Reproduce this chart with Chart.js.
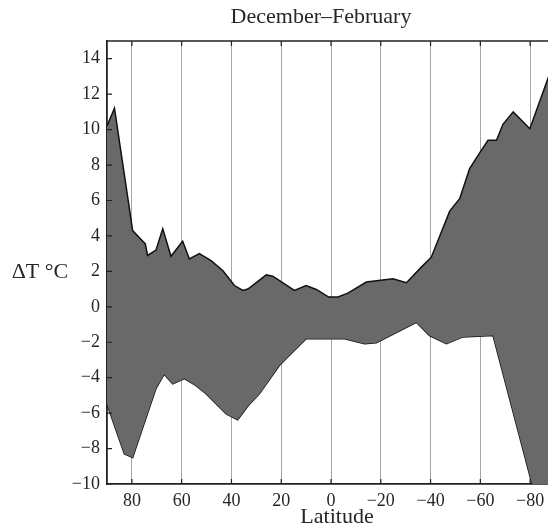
<!DOCTYPE html>
<html>
<head>
<meta charset="utf-8">
<script src="https://cdn.jsdelivr.net/npm/chart.js@4"></script>
<style>
html,body{margin:0;padding:0;background:#fff;overflow:hidden;}
#wrap{width:560px;height:529px;}
</style>
</head>
<body>
<div id="wrap"><canvas id="c" width="560" height="529"></canvas></div>
<script>
// Latitudes (deg) and ΔT (°C) of the upper boundary of the band
const latUpper = [90, 87, 81.7, 79.7, 76.3, 74.6, 73.7, 70.3, 67.6, 64.3, 59.6, 56.9, 52.9, 48.2, 43.5, 38.8, 35.4, 33.4, 26, 23.4, 14.7, 10, 5.9, 0.9, -2.8, -6.8, -14.2, -24.9, -30.3, -36.3, -40.3, -47.7, -51.7, -55.7, -59.8, -63.1, -66.5, -69.1, -73.2, -79.9, -87.2, -90];
const upperT = [10.2, 11.2, 6.2, 4.3, 3.8, 3.55, 2.9, 3.2, 4.4, 2.85, 3.7, 2.7, 3.0, 2.6, 2.05, 1.2, 0.92, 1.0, 1.8, 1.73, 0.92, 1.2, 0.98, 0.55, 0.55, 0.77, 1.4, 1.58, 1.36, 2.24, 2.8, 5.4, 6.1, 7.8, 8.7, 9.4, 9.4, 10.3, 11.0, 10.05, 12.9, 14.0];
// Latitudes and ΔT of the lower boundary
const latLower = [90, 83, 79.7, 70.3, 67, 63.6, 58.9, 54.2, 50.2, 42.1, 37.5, 33.4, 28.7, 20.7, 10, -5.5, -13.5, -18.2, -34.3, -39.6, -46.4, -53, -65.1, -80.4, -82, -90];
const lowerT = [-5.5, -8.3, -8.5, -4.6, -3.8, -4.35, -4.05, -4.45, -4.9, -6.05, -6.37, -5.6, -4.9, -3.3, -1.8, -1.8, -2.08, -2.03, -0.87, -1.62, -2.08, -1.7, -1.62, -9.8, -10.5, -13];
// Axis ticks
const xTicks = [80, 60, 40, 20, 0, -20, -40, -60, -80];
const yTicks = [-10, -8, -6, -4, -2, 0, 2, 4, 6, 8, 10, 12, 14];
const titleText = 'December–February';
const xLabel = 'Latitude';
const yLabel = 'ΔT °C';

const SERIF = '"Liberation Serif", "DejaVu Serif", serif';
const TXT = '#262626';
const fmt = v => (v < 0 ? '−' + Math.abs(v) : String(v));

const framePlugin = {
  id: 'frame',
  afterDatasetsDraw(chart) {
    const {ctx, chartArea: a, scales: {x, y}} = chart;
    ctx.save();
    ctx.strokeStyle = '#222';
    ctx.lineWidth = 1.5;
    ctx.beginPath();
    ctx.moveTo(a.left, a.top); ctx.lineTo(a.right, a.top);
    ctx.moveTo(a.right, a.top); ctx.lineTo(a.right, a.bottom);
    ctx.stroke();
    ctx.lineWidth = 1.2;
    ctx.beginPath();
    yTicks.forEach(v => {
      const p = y.getPixelForValue(v);
      ctx.moveTo(a.left, p); ctx.lineTo(a.left + 5, p);
      ctx.moveTo(a.right, p); ctx.lineTo(a.right - 5, p);
    });
    xTicks.forEach(v => {
      const p = x.getPixelForValue(v);
      ctx.moveTo(p, a.bottom); ctx.lineTo(p, a.bottom - 5);
      ctx.moveTo(p, a.top); ctx.lineTo(p, a.top + 5);
    });
    ctx.stroke();
    ctx.restore();
  },
  afterDraw(chart) {
    const {ctx} = chart;
    ctx.save();
    ctx.fillStyle = TXT;
    ctx.textAlign = 'center';
    ctx.textBaseline = 'middle';
    ctx.font = '22px ' + SERIF;
    ctx.fillText(titleText, 321, 17);
    ctx.fillText(xLabel, 337, 517);
    ctx.fillText(yLabel, 40, 272);
    ctx.restore();
  }
};

new Chart(document.getElementById('c'), {
  type: 'line',
  data: {
    datasets: [
      {
        data: latUpper.map((v, i) => ({x: v, y: upperT[i]})),
        borderColor: '#111', borderWidth: 1.5, pointRadius: 0, tension: 0,
        backgroundColor: '#696969', fill: '+1'
      },
      {
        data: latLower.map((v, i) => ({x: v, y: lowerT[i]})),
        borderColor: '#111', borderWidth: 1.5, pointRadius: 0, tension: 0,
        fill: false
      }
    ]
  },
  options: {
    responsive: false,
    animation: false,
    events: [],
    layout: {padding: {top: 41, right: 5, left: 0, bottom: 0}},
    plugins: {legend: {display: false}, tooltip: {enabled: false}, title: {display: false}},
    scales: {
      x: {
        type: 'linear', reverse: true, min: -90, max: 90,
        afterBuildTicks: s => { s.ticks = xTicks.map(v => ({value: v})); },
        afterFit: s => { s.height = 45; },
        grid: {color: '#a5a5a5', lineWidth: 1, drawTicks: false},
        border: {display: true, color: '#222', width: 1.8},
        ticks: {font: {family: SERIF, size: 18}, color: TXT, padding: 6, maxRotation: 0, callback: v => fmt(v)}
      },
      y: {
        type: 'linear', min: -10, max: 15,
        afterBuildTicks: s => { s.ticks = yTicks.map(v => ({value: v})); },
        afterFit: s => { s.width = 107; },
        grid: {display: false, drawTicks: false},
        border: {display: true, color: '#222', width: 1.8},
        ticks: {font: {family: SERIF, size: 18}, color: TXT, padding: 7, callback: v => fmt(v)}
      }
    }
  },
  plugins: [framePlugin]
});
</script>
</body>
</html>
